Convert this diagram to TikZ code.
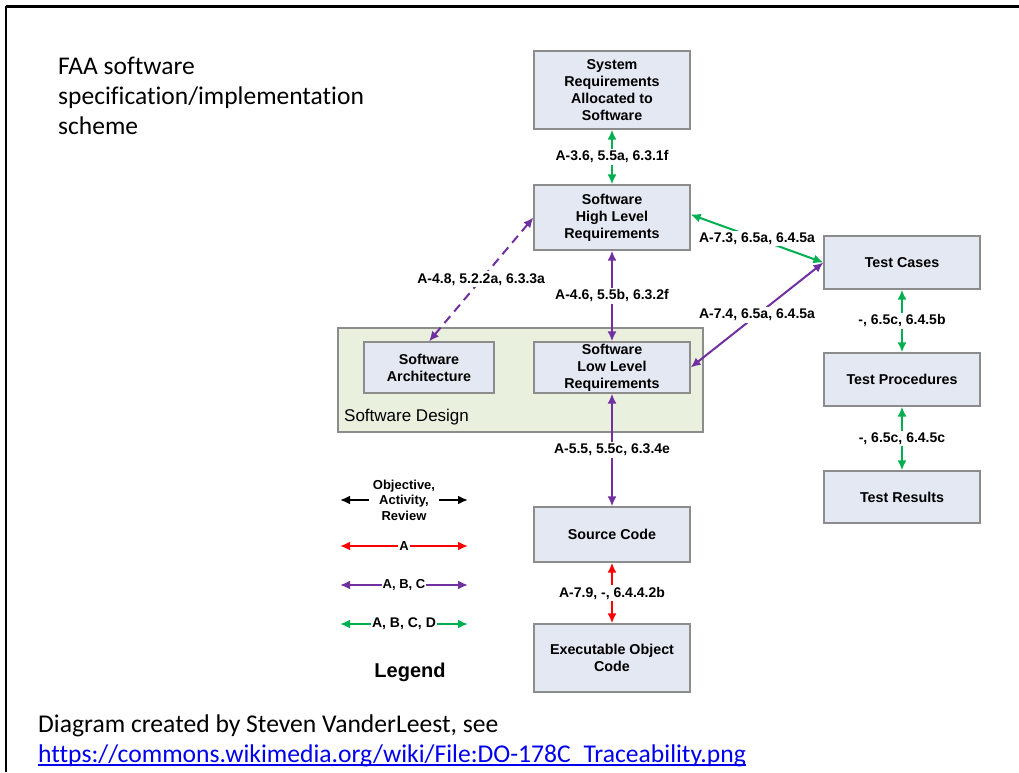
\documentclass[tikz,border=0pt]{standalone}
\usepackage{fontspec}
\setmainfont{Liberation Sans}
\newfontfamily\calfont[Ligatures={NoCommon}]{Carlito}
\usetikzlibrary{arrows.meta}
\definecolor{cgreen}{RGB}{0,176,80}
\definecolor{cpurple}{RGB}{112,48,160}
\definecolor{cred}{RGB}{255,0,0}
\definecolor{boxfill}{RGB}{228,232,243}
\definecolor{boxline}{RGB}{140,140,140}
\definecolor{designfill}{RGB}{234,240,222}
\definecolor{linkblue}{RGB}{0,0,238}
\tikzset{
  box/.style={draw=boxline, line width=1.2pt, fill=boxfill, minimum width=156pt, align=center,
    font=\bfseries\fontsize{14.3}{17}\selectfont, inner sep=0pt},
  arr/.style={line width=2pt, {Latex[length=10pt,width=9pt]}-{Latex[length=10pt,width=9pt]}},
  lbl/.style={fill=white, inner sep=2pt, font=\bfseries\fontsize{14}{17}\selectfont, text=black},
  leglbl/.style={fill=white, inner sep=1pt, align=center, font=\bfseries\fontsize{13}{15.5}\selectfont, text=black},
}
\begin{document}
\begin{tikzpicture}[x=1pt,y=-1pt]
\useasboundingbox (0,0) rectangle (1019,772);
% frame
\draw[line width=3pt] (6,6) -- (1019,6);
\draw[line width=2pt] (6,6) -- (6,772);
% title
\node[anchor=north west, align=left, font=\calfont\fontsize{25.5}{30}\selectfont, inner sep=0pt] (title) at (58,57)
  {FAA software\\specification/implementation\\scheme};
% software design container
\node[draw=boxline, line width=1.2pt, fill=designfill, minimum width=365pt, minimum height=104pt, inner sep=0pt] (design) at (520.5,380) {};
\node[anchor=base west, font=\fontsize{17}{20}\selectfont, inner sep=0pt] (designlbl) at (344,421) {Software Design};
% boxes
\node[box, minimum height=78pt] (sys) at (612,90) {System\\Requirements\\Allocated to\\Software};
\node[box, minimum height=65pt] (hlr) at (612,217.5) {Software\\High Level\\Requirements};
\node[box, minimum height=51pt] (llr) at (612,367.5) {Software\\Low Level\\Requirements};
\node[box, minimum width=130pt, minimum height=51pt] (arch) at (429,367.5) {Software\\Architecture};
\node[box, minimum height=55pt] (src) at (612,534.5) {Source Code};
\node[box, minimum height=68pt] (exe) at (612,658) {Executable Object\\Code};
\node[box, minimum height=53pt] (tc) at (902,262.5) {Test Cases};
\node[box, minimum height=53pt] (tp) at (902,379.5) {Test Procedures};
\node[box, minimum height=52pt] (tr) at (902,497) {Test Results};
% connectors
\draw[arr, cgreen] (sys.south) -- node[lbl] {A-3.6, 5.5a, 6.3.1f} (hlr.north);
\draw[arr, cpurple] (hlr.south) -- node[lbl] {A-4.6, 5.5b, 6.3.2f} (llr.north);
\draw[arr, cpurple, dashed, dash pattern=on 9pt off 6pt] (hlr.west) -- node[lbl] {A-4.8, 5.2.2a, 6.3.3a} (arch.north);
\draw[arr, cgreen] ([yshift=3pt]hlr.east) -- node[lbl] {A-7.3, 6.5a, 6.4.5a} (tc.west);
\draw[arr, cpurple] (llr.east) -- node[lbl] {A-7.4, 6.5a, 6.4.5a} (tc.west);
\draw[arr, cpurple] (llr.south) -- node[lbl] {A-5.5, 5.5c, 6.3.4e} (src.north);
\draw[arr, cred] (src.south) -- node[lbl] {A-7.9, -, 6.4.4.2b} (exe.north);
\draw[arr, cgreen] (tc.south) -- node[lbl] {-, 6.5c, 6.4.5b} (tp.north);
\draw[arr, cgreen] (tp.south) -- node[lbl] {-, 6.5c, 6.4.5c} (tr.north);
% legend
\coordinate (l1a) at (340,500); \coordinate (l1b) at (468,500);
\coordinate (l2a) at (340,546); \coordinate (l2b) at (468,546);
\coordinate (l3a) at (340,585); \coordinate (l3b) at (468,585);
\coordinate (l4a) at (340,624); \coordinate (l4b) at (468,624);
\draw[arr, black] (l1a) -- node[leglbl, inner xsep=4pt] {Objective,\\Activity,\\Review} (l1b);
\draw[arr, cred] (l2a) -- node[leglbl] {A} (l2b);
\draw[arr, cpurple] (l3a) -- node[leglbl] {A, B, C} (l3b);
\draw[arr, cgreen] (l4a) -- node[leglbl, font=\bfseries\fontsize{14}{16}\selectfont] {A, B, C, D} (l4b);
\node[font=\bfseries\fontsize{20}{24}\selectfont, inner sep=0pt] (legend) at (410,672) {Legend};
% credits
\node[anchor=base west, align=left, font=\calfont\fontsize{25.6}{30}\selectfont, inner sep=0pt] (credit) at (38,732)
  {Diagram created by Steven VanderLeest, see};
\node[anchor=base west, font=\calfont\fontsize{25.6}{30}\selectfont, inner sep=0pt, text=linkblue] (url) at (38,762)
  {https://commons.wikimedia.org/wiki/File:DO-178C\_Traceability.png};
\draw[linkblue, line width=1.3pt] ([yshift=-3pt]url.base west) -- ([yshift=-3pt]url.base east);
\end{tikzpicture}
\end{document}
